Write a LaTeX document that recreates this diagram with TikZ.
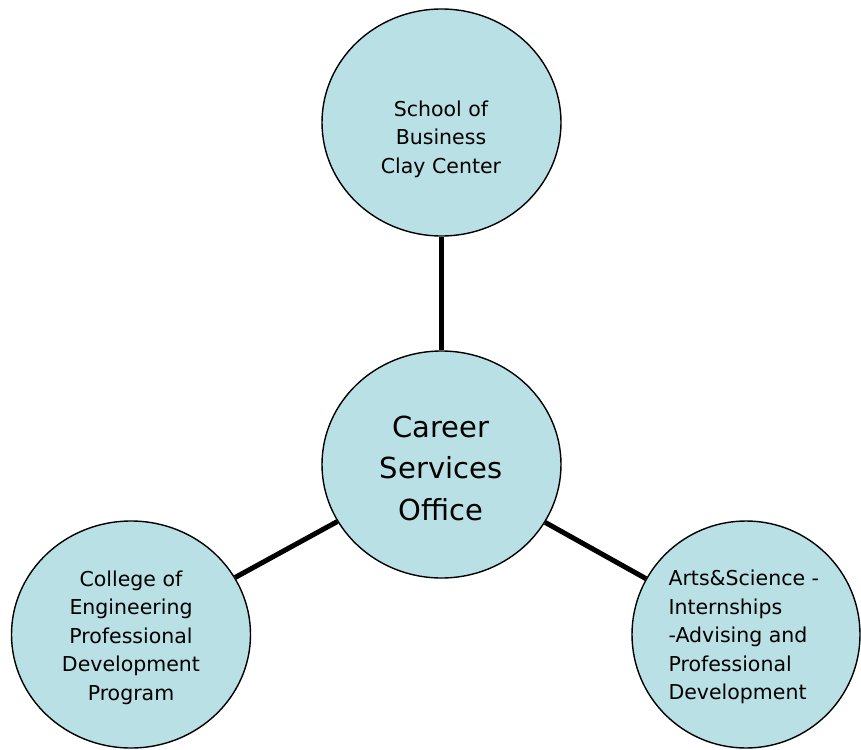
\documentclass[tikz,border=0pt]{standalone}
\usepackage{fontspec}
\setmainfont{DejaVu Sans}
\usetikzlibrary{shapes.geometric}
\definecolor{bubble}{RGB}{185,224,228}

\begin{document}
\begin{tikzpicture}[x=1pt, y=-1pt,
		hub/.style={ellipse, draw=black, line width=1.4pt, fill=bubble, inner sep=0pt,
			minimum width=239pt, minimum height=227pt},
		txt/.style={align=center, font=\fontsize{20.5}{28.5}\selectfont},
		big/.style={align=center, font=\fontsize{29}{41.5}\selectfont},
		link/.style={line width=5pt, black}]
			\useasboundingbox (0,0) rectangle (861,749);
			\clip (0,0) rectangle (861,749);

			% Draw the bubbles
			\node[hub] (biz) at (441.5, 122.5) {};
			\node[hub] (csoff) at (441.5, 464.5) {};
			\node[hub] (eng) at (131, 634.5) {};
			\node[hub, minimum width=228pt] (arts) at (746, 634.5) {};

			% Draw the links between the bubbles
			\draw[link] (csoff) -- (biz);
			\draw[link] (csoff) -- (eng);
			\draw[link] (csoff) -- (arts);

			% Write the texts inside the bubbles
			\node[txt] (biztext) at (441, 139) {School of\\Business\\Clay Center};
			\node[big] (csofftext) at (441, 468) {Career\\Services\\Office};
			\node[txt] (engtext) at (131, 637.5) {College of\\Engineering\\Professional\\Development\\Program};
			\node[txt, align=left, anchor=west] (artstext) at (665, 637) {Arts\&Science -\\Internships\\-Advising and\\Professional\\Development};

		\end{tikzpicture}
\end{document}
